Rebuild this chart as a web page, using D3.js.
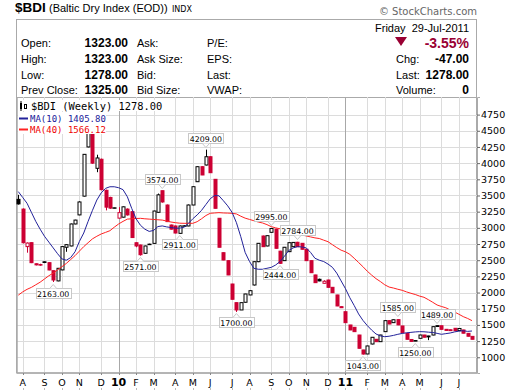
<!DOCTYPE html>
<html>
<head>
<meta charset="utf-8">
<script src="https://cdn.jsdelivr.net/npm/d3@7"></script>
<style>
  body { margin: 0; background: #fff; }
  svg { display: block; }
  .info { font-family: "Liberation Sans", Arial, sans-serif; font-size: 11px; fill: #000; }
  .bold { font-weight: bold; }
  .axis text { font-family: "DejaVu Sans", Verdana, sans-serif; font-size: 9.5px; fill: #000; }
</style>
</head>
<body>
<svg id="chart" width="520" height="391"></svg>
<script>
// weekly bars, dated by first trading day of the week
var weeks = [
  "2009-07-27","2009-08-03","2009-08-10","2009-08-17","2009-08-24","2009-08-31","2009-09-08","2009-09-14","2009-09-21","2009-09-28",
  "2009-10-05","2009-10-12","2009-10-19","2009-10-26","2009-11-02","2009-11-09","2009-11-16","2009-11-23","2009-11-30","2009-12-07",
  "2009-12-14","2009-12-21","2009-12-28","2010-01-04","2010-01-11","2010-01-19","2010-01-25","2010-02-01","2010-02-08","2010-02-16",
  "2010-02-22","2010-03-01","2010-03-08","2010-03-15","2010-03-22","2010-03-29","2010-04-05","2010-04-12","2010-04-19","2010-04-26",
  "2010-05-03","2010-05-10","2010-05-17","2010-05-24","2010-06-01","2010-06-07","2010-06-14","2010-06-21","2010-06-28","2010-07-06",
  "2010-07-12","2010-07-19","2010-07-26","2010-08-02","2010-08-09","2010-08-16","2010-08-23","2010-08-30","2010-09-07","2010-09-13",
  "2010-09-20","2010-09-27","2010-10-04","2010-10-11","2010-10-18","2010-10-25","2010-11-01","2010-11-08","2010-11-15","2010-11-22",
  "2010-11-29","2010-12-06","2010-12-13","2010-12-20","2010-12-27","2011-01-03","2011-01-10","2011-01-18","2011-01-24","2011-01-31",
  "2011-02-07","2011-02-14","2011-02-22","2011-02-28","2011-03-07","2011-03-14","2011-03-21","2011-03-28","2011-04-04","2011-04-11",
  "2011-04-18","2011-04-25","2011-05-02","2011-05-09","2011-05-16","2011-05-23","2011-05-31","2011-06-06","2011-06-13","2011-06-20",
  "2011-06-27","2011-07-05","2011-07-11","2011-07-18","2011-07-25"
];

var opens = [
  3440,3290,2710,2771,2445,2432,2475,2462,2338,2180, 2350,2700,2720,3060,3200,3490,4250,4480,3920,4060,
  3580,3470,3305,3150,3165,3290,3250,2770,2735,2607, 2748,2760,3240,3574,3353,3044,3029,2915,3030,3029,
  3353,3713,3945,3971,4099,3750,3148,2616,2493,2132, 1844,1731,1850,1963,2117,2477,2874,2720,2931,2980,
  2640,2493,2632,2709,2777,2761,2669,2493,2272,2205, 2143,2194,2081,1963,1782,1704,1499,1463,1344,1113,
  1051,1205,1278,1241,1396,1566,1535,1582,1484,1371, 1275,1258,1293,1344,1329,1344,1488,1487,1432,1425,
  1448,1412,1422,1370,1323
];
var highs = [
  3510,3300,2775,2775,2450,2445,2480,2465,2340,2380, 2715,2745,3065,3125,3410,4140,4661,4490,4130,4070,
  3590,3480,3312,3320,3330,3300,3255,2775,2740,2725, 2755,3265,3530,3574,3360,3050,3035,3035,3040,3360,
  3640,3950,3950,4209,4105,3755,3150,2620,2495,2135, 1845,1845,1980,2035,2480,2765,2880,2880,2995,2985,
  2645,2705,2775,2780,2784,2765,2670,2495,2275,2215, 2190,2198,2083,1965,1785,1706,1500,1465,1346,1115,
  1178,1312,1282,1347,1570,1568,1583,1585,1486,1373, 1278,1260,1347,1346,1332,1476,1489,1488,1434,1428,
  1450,1449,1425,1372,1323
];
var lows = [
  3360,2760,2616,2455,2420,2415,2455,2345,2163,2175, 2345,2630,2715,3055,3195,3485,4245,3990,3860,3580,
  3270,3295,3300,3145,3160,3190,2845,2700,2571,2600, 2740,2755,3235,3390,3090,2975,2915,2911,3025,3025,
  3350,3710,3815,3965,3850,3300,2700,2500,2270,1895, 1700,1730,1845,1960,2110,2470,2705,2715,2925,2680,
  2444,2490,2630,2705,2705,2665,2490,2305,2150,2175, 2140,2078,1995,1790,1762,1533,1420,1394,1137,1043,
  1048,1200,1238,1238,1392,1512,1530,1497,1378,1276, 1243,1250,1290,1308,1265,1340,1473,1430,1413,1410,
  1408,1410,1370,1323,1278
];
var closes = [
  3370,2770,2765,2462,2428,2425,2465,2349,2194,2375, 2710,2740,3060,3120,3400,4136,4500,4000,4080,3590,
  3320,3305,3310,3235,3325,3200,2850,2720,2585,2720, 2745,3260,3510,3400,3096,2980,2920,3029,3032,3353,
  3636,3945,3817,4099,3852,3302,2700,2503,2272,1896, 1731,1844,1978,2029,2477,2761,2709,2879,2990,2684,
  2452,2700,2771,2775,2709,2669,2493,2307,2153,2180, 2175,2081,1998,1793,1766,1535,1422,1396,1139,1050,
  1175,1309,1241,1344,1566,1514,1580,1500,1380,1278, 1245,1252,1344,1310,1315,1473,1476,1432,1415,1412,
  1410,1445,1372,1325,1278
];
var prevClose0 = 3300;   // close of the week before the first bar

var ma10 = [
  3560,3470,3380,3240,3100,2980,2870,2780,2690,2600, 2520,2500,2540,2630,2790,2920,3100,3270,3430,3540,
  3610,3635,3635,3620,3590,3480,3300,3140,3040,2980, 2945,2960,3020,3030,3015,3005,2995,2995,3010,3070,
  3140,3200,3270,3360,3450,3500,3495,3420,3340,3240, 3080,2863,2620,2480,2375,2360,2360,2375,2390,2426,
  2480,2560,2650,2690,2709,2705,2690,2620,2530,2500, 2480,2440,2390,2300,2180,2060,1920,1800,1670,1570,
  1490,1420,1360,1330,1318,1325,1338,1355,1368,1378, 1385,1392,1396,1394,1388,1383,1370,1355,1365,1375,
  1392,1404,1410,1400,1405.8
];
var ma40 = [
  1960,2010,2050,2080,2120,2160,2210,2260,2300,2350, 2400,2450,2510,2570,2640,2710,2770,2830,2870,2905,
  2930,2956,3010,3060,3100,3135,3140,3145,3147,3140, 3135,3130,3125,3120,3105,3090,3080,3072,3070,3070,
  3070,3095,3140,3190,3225,3230,3235,3230,3228,3225, 3215,3180,3150,3130,3110,3090,3075,3050,3018,3000,
  2985,2967,2945,2925,2905,2890,2875,2860,2845,2835, 2810,2786,2740,2695,2655,2630,2590,2530,2465,2400,
  2330,2270,2215,2170,2120,2085,2070,2051,2035,2010, 1989,1970,1945,1927,1890,1850,1808,1785,1765,1731,
  1700,1665,1628,1600,1566.12
];

var yTicks = [1000,1250,1500,1750,2000,2250,2500,2750,3000,3250,3500,3750,4000,4250,4500,4750];
var monthLetters = ["J","F","M","A","M","J","J","A","S","O","N","D"];

// annotated highs and lows (bar index)
var callouts = [
  {i: 8,  kind: "low"},  {i: 28, kind: "low"},  {i: 33, kind: "high"}, {i: 37, kind: "low"},
  {i: 43, kind: "high"}, {i: 50, kind: "low"},  {i: 58, kind: "high"}, {i: 60, kind: "low"},
  {i: 64, kind: "high"}, {i: 79, kind: "low"},  {i: 87, kind: "high"}, {i: 91, kind: "low"},
  {i: 96, kind: "high"}
];

var infoLeft = [["Open:", "1323.00", "Ask:", "P/E:"], ["High:", "1323.00", "Ask Size:", "EPS:"],
                ["Low:", "1278.00", "Bid:", "Last:"], ["Prev Close:", "1325.00", "Bid Size:", "VWAP:"]];
var infoRight = [["Chg:", "-47.00"], ["Last:", "1278.00"], ["Volume:", "0"]];

var svg = d3.select("#chart");
var plot = {left: 17, right: 477, top: 97, bottom: 373};

var parse = d3.timeParse("%Y-%m-%d");
var dates = weeks.map(parse);

var x = d3.scaleLinear().domain([-0.3, 105.15]).range([plot.left, plot.right]);
var y = d3.scaleLinear().domain([757, 5022]).range([plot.bottom, plot.top]);

var red = "#cc0033";

// ---- header ----
svg.append("text").attr("x", 15).attr("y", 12)
  .style("font", "bold 13.5px 'Liberation Sans', Arial").text("$BDI");
svg.append("text").attr("x", 49).attr("y", 12)
  .style("font", "11px 'Liberation Sans', Arial").text("(Baltic Dry Index (EOD))");
svg.append("text").attr("x", 172).attr("y", 12)
  .style("font", "8px 'DejaVu Sans', Verdana").text("INDX");
svg.append("text").attr("x", 477).attr("y", 15).attr("text-anchor", "end")
  .style("font", "10px 'DejaVu Sans', Verdana").style("fill", "#666").text("\u00a9 StockCharts.com");

// info box
svg.append("rect").attr("x", 16.5).attr("y", 19.5).attr("width", 460).attr("height", 353.5)
  .attr("fill", "none").attr("stroke", "#aaa");

var rowY = [47, 63, 79, 94];
infoLeft.forEach(function(r, k) {
  svg.append("text").attr("class", "info").attr("x", 21).attr("y", rowY[k]).text(r[0]);
  svg.append("text").attr("class", "info bold").attr("x", 128).attr("y", rowY[k])
    .attr("text-anchor", "end").style("font-size", "12px").text(r[1]);
  svg.append("text").attr("class", "info").attr("x", 137).attr("y", rowY[k]).text(r[2]);
  svg.append("text").attr("class", "info").attr("x", 207).attr("y", rowY[k]).text(r[3]);
});
svg.append("text").attr("class", "info").attr("x", 469).attr("y", 32).attr("text-anchor", "end")
  .text("Friday  29-Jul-2011").style("white-space", "pre");
svg.append("path").attr("d", "M395,37 L407,37 L401,46 Z").attr("fill", "#990033");
svg.append("text").attr("class", "info bold").attr("x", 469).attr("y", 48).attr("text-anchor", "end")
  .style("font-size", "14px").style("fill", "#990033").text("-3.55%");
infoRight.forEach(function(r, k) {
  svg.append("text").attr("class", "info").attr("x", 396).attr("y", rowY[k + 1]).text(r[0]);
  svg.append("text").attr("class", "info bold").attr("x", 469).attr("y", rowY[k + 1])
    .attr("text-anchor", "end").style("font-size", "12px").text(r[1]);
});

// ---- plot grid ----
var g = svg.append("g");
g.append("line").attr("x1", plot.left).attr("x2", plot.right)
  .attr("y1", plot.top + 0.5).attr("y2", plot.top + 0.5).attr("stroke", "#aaa");

g.selectAll(".hgrid").data(yTicks).enter().append("line")
  .attr("x1", plot.left).attr("x2", plot.right)
  .attr("y1", function(d) { return Math.round(y(d)) + 0.5; })
  .attr("y2", function(d) { return Math.round(y(d)) + 0.5; })
  .attr("stroke", "#dcdcdc");

var monthStarts = [];
dates.forEach(function(d, i) {
  if (i > 0 && d.getMonth() !== dates[i - 1].getMonth()) monthStarts.push(i);
});
g.selectAll(".vgrid").data(monthStarts).enter().append("line")
  .attr("x1", function(i) { return Math.round(x(i)) + 0.5; })
  .attr("x2", function(i) { return Math.round(x(i)) + 0.5; })
  .attr("y1", plot.top).attr("y2", plot.bottom)
  .attr("stroke", function(i) { return dates[i].getMonth() === 0 ? "#a8a8a8" : "#dcdcdc"; });

// axes
g.append("line").attr("x1", plot.left).attr("x2", plot.right)
  .attr("y1", plot.bottom).attr("y2", plot.bottom).attr("stroke", "#aaa").attr("stroke-width", 1.5);
g.append("line").attr("x1", plot.left).attr("x2", plot.left)
  .attr("y1", plot.top).attr("y2", plot.bottom).attr("stroke", "#aaa").attr("stroke-width", 1.5);

var yAxis = d3.axisRight(y).tickValues(yTicks).tickFormat(d3.format("d")).tickSize(3).tickPadding(1);
var ya = svg.append("g").attr("class", "axis").attr("transform", "translate(" + plot.right + ",0)").call(yAxis);
ya.select(".domain").attr("stroke", "#aaa");
ya.selectAll(".tick line").attr("stroke", "#666");

var xa = svg.append("g").attr("class", "axis");
xa.selectAll("text").data(monthStarts).enter().append("text")
  .attr("x", function(i) { return x(i); })
  .attr("y", 386)
  .attr("text-anchor", "middle")
  .style("font-weight", function(i) { return dates[i].getMonth() === 0 ? "bold" : "normal"; })
  .style("font-size", function(i) { return dates[i].getMonth() === 0 ? "11px" : "9.5px"; })
  .text(function(i) {
    var d = dates[i];
    return d.getMonth() === 0 ? d3.timeFormat("%y")(d) : monthLetters[d.getMonth()];
  });
xa.selectAll(".tk").data(monthStarts).enter().append("line")
  .attr("x1", function(i) { return Math.round(x(i)) + 0.5; })
  .attr("x2", function(i) { return Math.round(x(i)) + 0.5; })
  .attr("y1", plot.bottom).attr("y2", plot.bottom + 2).attr("stroke", "#888");
// little marks under the month letters
xa.selectAll(".dot").data(monthStarts).enter().append("rect")
  .attr("x", function(i) { return Math.round(x(i)); })
  .attr("y", 388).attr("width", 1).attr("height", 2).attr("fill", "#bbb");

// ---- candles ----
var bars = d3.range(weeks.length).map(function(i) {
  var prev = i === 0 ? prevClose0 : closes[i - 1];
  return {i: i, o: opens[i], h: highs[i], l: lows[i], c: closes[i],
          color: closes[i] < prev ? red : "#000", filled: closes[i] < opens[i]};
});

var cg = svg.append("g");
cg.selectAll(".wick").data(bars).enter().append("line")
  .attr("x1", function(d) { return Math.round(x(d.i)) + 0.5; })
  .attr("x2", function(d) { return Math.round(x(d.i)) + 0.5; })
  .attr("y1", function(d) { return y(d.h); })
  .attr("y2", function(d) { return y(d.l); })
  .attr("stroke", function(d) { return d.color; });

cg.selectAll(".body").data(bars).enter().append("rect")
  .attr("x", function(d) { return Math.round(x(d.i)) - 1; })
  .attr("width", 3)
  .attr("y", function(d) { return y(Math.max(d.o, d.c)); })
  .attr("height", function(d) { return Math.max(0.5, Math.abs(y(d.o) - y(d.c))); })
  .attr("fill", function(d) { return d.filled ? d.color : "#fff"; })
  .attr("stroke", function(d) { return d.color; })
  .attr("stroke-width", 1);

// ---- moving averages ----
var line = d3.line().x(function(d, i) { return x(i); }).y(function(d) { return y(d); });
svg.append("path").datum(ma40).attr("d", line).attr("fill", "none").attr("stroke", "#ff2222").attr("stroke-width", 1);
svg.append("path").datum(ma10).attr("d", line).attr("fill", "none").attr("stroke", "#22229a").attr("stroke-width", 1);

// ---- callouts ----
var cfont = "7.8px 'DejaVu Sans', Verdana";
callouts.forEach(function(c) {
  var v = c.kind === "high" ? highs[c.i] : lows[c.i];
  var cx = x(c.i), py = y(v);
  var w = 35, h = 10;
  var top = c.kind === "high" ? py - 7 - h : py + 5.5;
  var tipY = c.kind === "high" ? top + h + 4 : top - 4;
  var edgeY = c.kind === "high" ? top + h : top;
  svg.append("rect").attr("x", Math.round(cx - w / 2) + 0.5).attr("y", Math.round(top) + 0.5)
    .attr("width", w).attr("height", h).attr("fill", "#fff").attr("stroke", "#c8c8c8");
  svg.append("path")
    .attr("d", "M" + (cx - 3.5) + "," + (Math.round(edgeY) + 0.5) + "L" + cx + "," + (Math.round(tipY) + 0.5) +
               "L" + (cx + 3.5) + "," + (Math.round(edgeY) + 0.5))
    .attr("fill", "#fff").attr("stroke", "#c8c8c8");
  svg.append("text").attr("x", cx).attr("y", Math.round(top) + 8.5).attr("text-anchor", "middle")
    .style("font", cfont).text(v.toFixed(2));
});

// ---- legend ----
var lg = svg.append("g");
lg.append("rect").attr("x", 18).attr("y", 100).attr("width", 145).attr("height", 11).attr("fill", "#fff");
lg.append("rect").attr("x", 18).attr("y", 112).attr("width", 88).attr("height", 22).attr("fill", "#fff");
lg.append("rect").attr("x", 20).attr("y", 103).attr("width", 2).attr("height", 6).attr("fill", "#000");
lg.append("line").attr("x1", 21).attr("x2", 21).attr("y1", 101).attr("y2", 111).attr("stroke", "#000");
lg.append("rect").attr("x", 24.5).attr("y", 104.5).attr("width", 2).attr("height", 4).attr("fill", "#fff").attr("stroke", "#000");
lg.append("text").attr("x", 31).attr("y", 110).style("font", "10.4px 'DejaVu Sans Mono', monospace")
  .text("$BDI (Weekly) " + closes[closes.length - 1].toFixed(2));
lg.append("line").attr("x1", 19).attr("x2", 28).attr("y1", 118.5).attr("y2", 118.5).attr("stroke", "#22229a").attr("stroke-width", 2);
lg.append("text").attr("x", 30).attr("y", 121.5).style("font", "9px 'DejaVu Sans Mono', monospace").style("fill", "#1a1a99")
  .text("MA(10) " + ma10[ma10.length - 1].toFixed(2));
lg.append("line").attr("x1", 19).attr("x2", 28).attr("y1", 129.5).attr("y2", 129.5).attr("stroke", "#ff2222").attr("stroke-width", 2);
lg.append("text").attr("x", 30).attr("y", 132.5).style("font", "9px 'DejaVu Sans Mono', monospace").style("fill", "#ee0000")
  .text("MA(40) " + ma40[ma40.length - 1].toFixed(2));
</script>
</body>
</html>
